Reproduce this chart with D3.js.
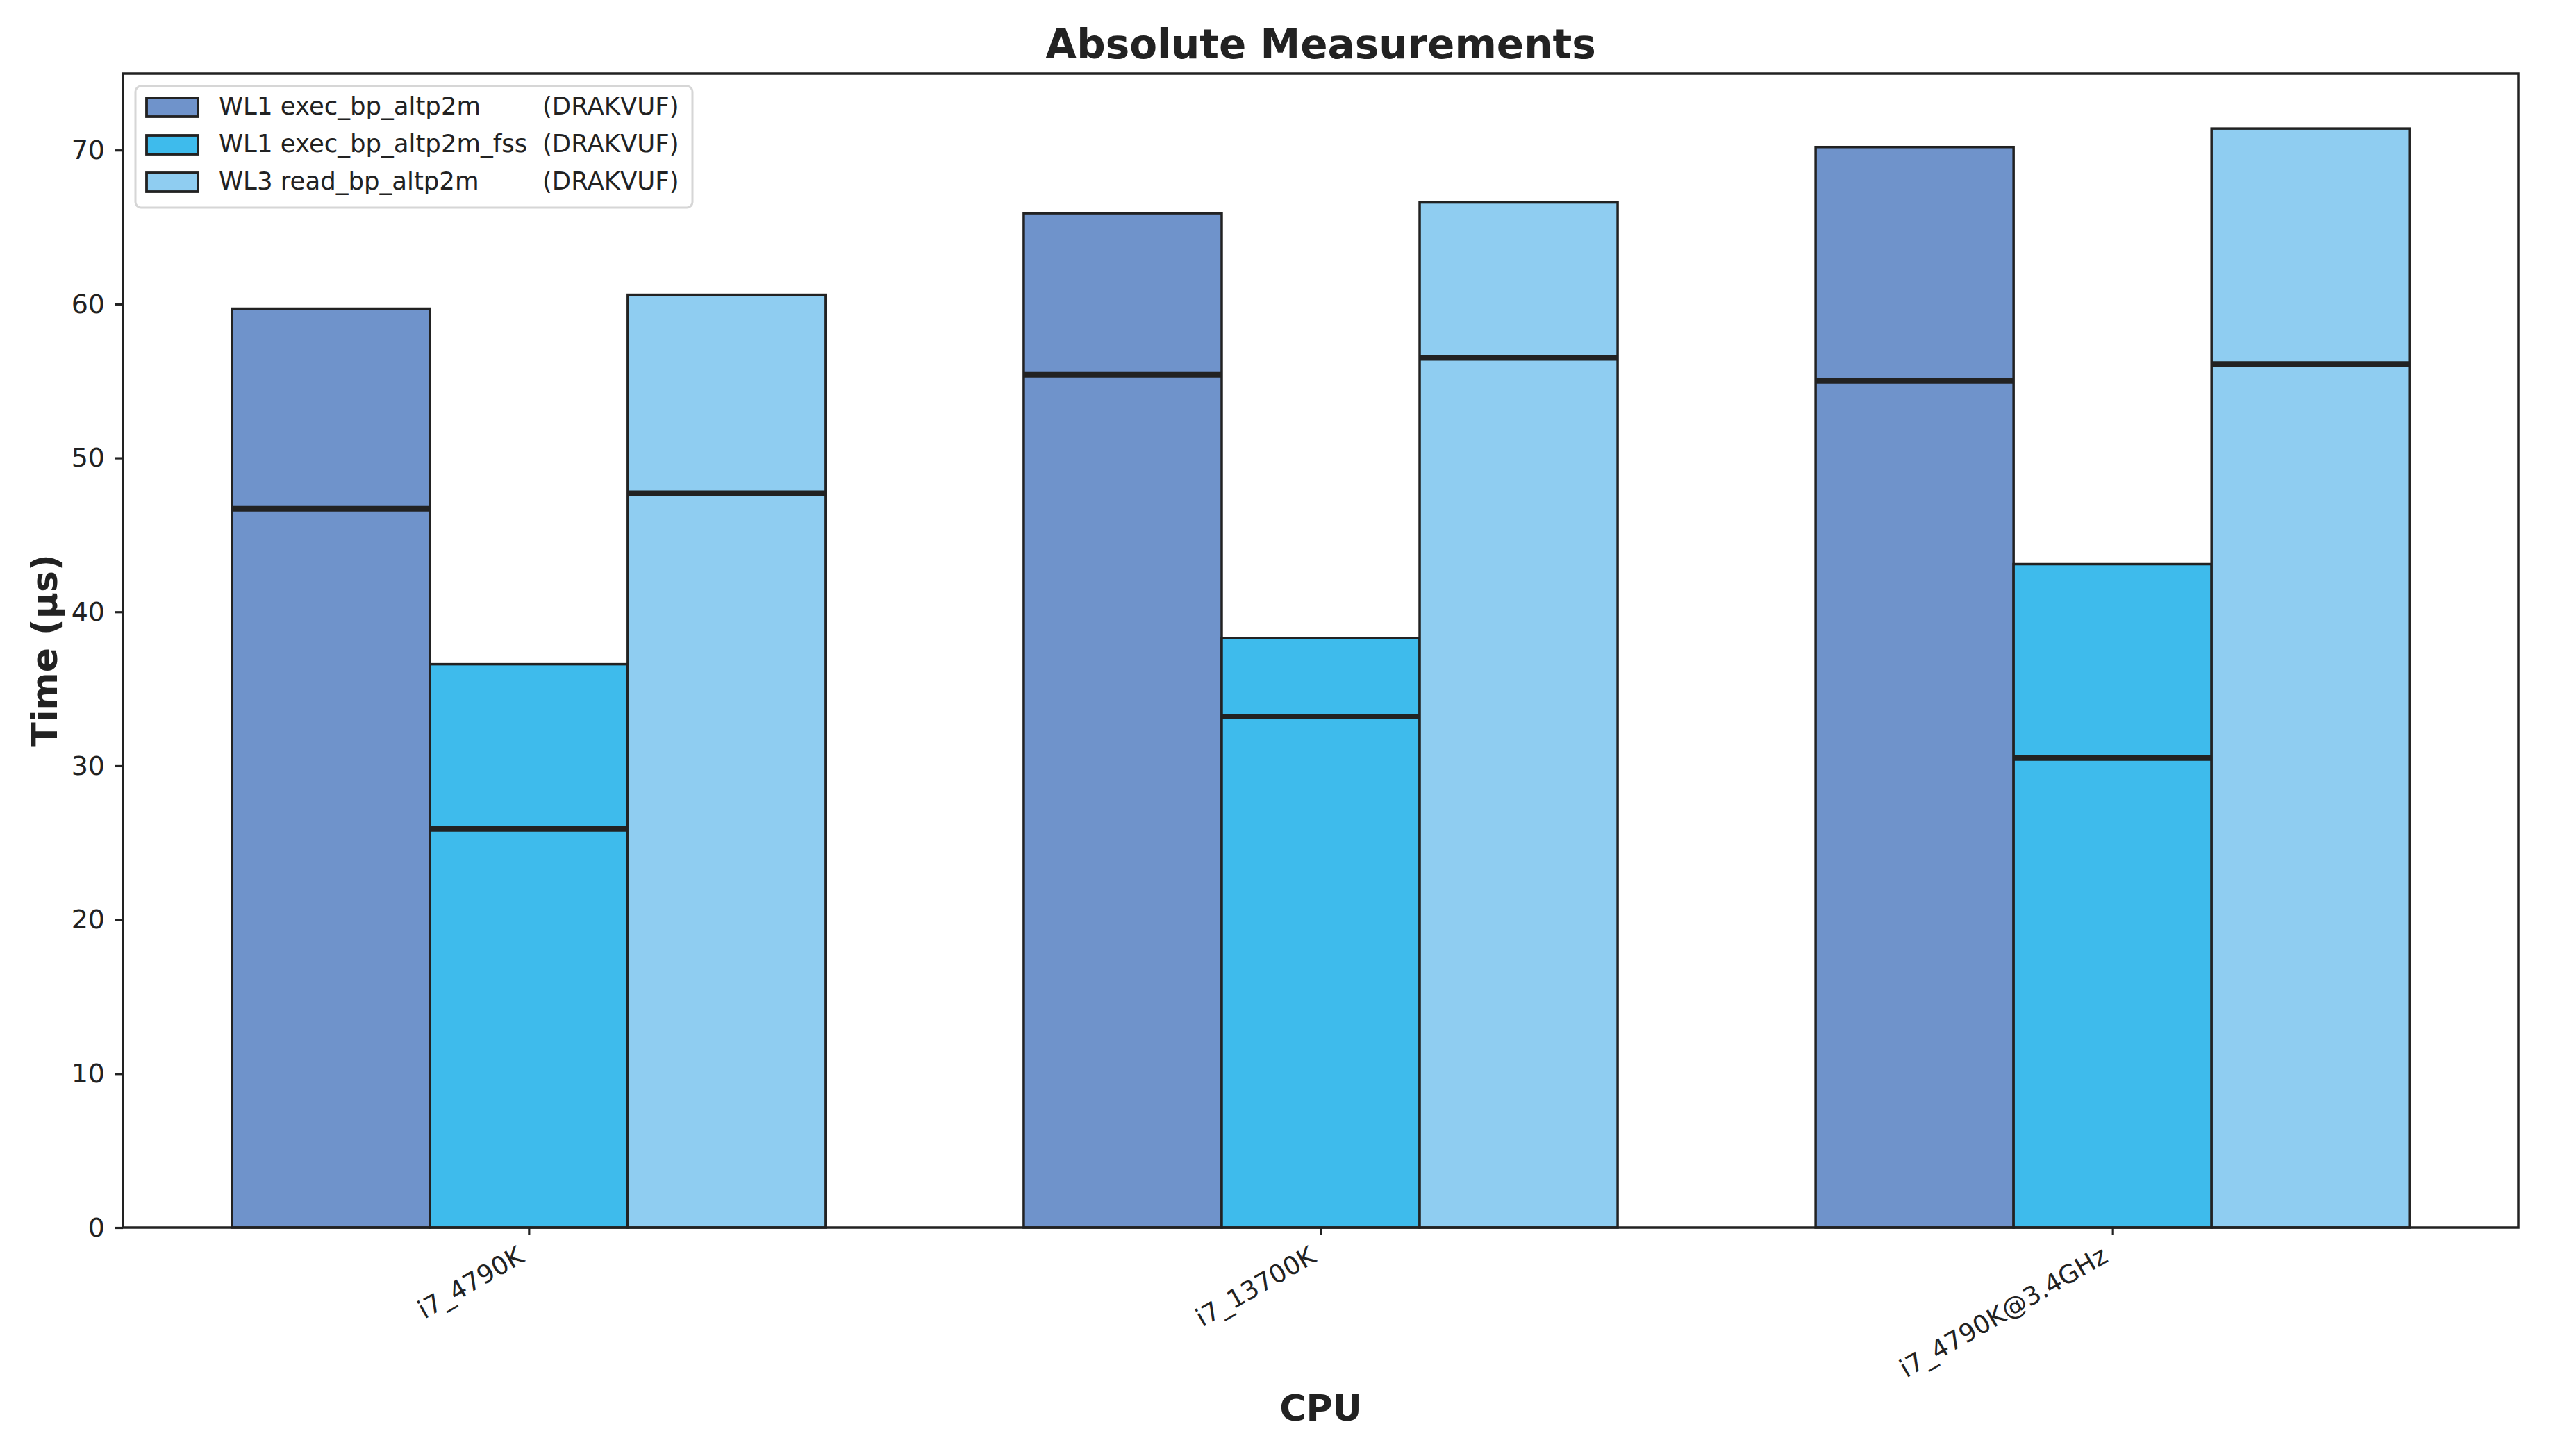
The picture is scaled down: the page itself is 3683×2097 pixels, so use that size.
<!DOCTYPE html>
<html>
<head>
<meta charset="utf-8">
<script src="https://cdn.jsdelivr.net/npm/d3@7"></script>
<style>
  html, body { margin: 0; padding: 0; background: #fff; }
  svg { display: block; }
  text { font-family: "DejaVu Sans", sans-serif; fill: #222; }
</style>
</head>
<body>
<svg id="chart" width="3683" height="2097"></svg>
<script>
// ---- data ----
const categories = ["i7_4790K", "i7_13700K", "i7_4790K@3.4GHz"];
const seriesNames = ["WL1 exec_bp_altp2m", "WL1 exec_bp_altp2m_fss", "WL3 read_bp_altp2m"];
const seriesTags = ["(DRAKVUF)", "(DRAKVUF)", "(DRAKVUF)"];
const seriesColors = ["#6f93cb", "#3ebbec", "#8fcdf1"];
// bar heights (mean) per series, per category
const meanWL1exec = [59.7, 65.9, 70.2];
const meanWL1fss  = [36.6, 38.3, 43.1];
const meanWL3read = [60.6, 66.6, 71.4];
// horizontal marker (median) per series, per category
const medWL1exec = [46.7, 55.4, 55.0];
const medWL1fss  = [25.9, 33.2, 30.5];
const medWL3read = [47.7, 56.5, 56.1];
const yTicks = [0, 10, 20, 30, 40, 50, 60, 70];

const means = [meanWL1exec, meanWL1fss, meanWL3read];
const medians = [medWL1exec, medWL1fss, medWL3read];

// ---- layout ----
const svg = d3.select("#chart");
const L = 177, R = 3626, T = 106, B = 1768;
const barW = 0.25;
const x = d3.scaleLinear().domain([-0.5125, 2.5125]).range([L, R]);
const y = d3.scaleLinear().domain([0, 74.97]).range([B, T]);

const rows = [];
means.forEach((arr, s) => arr.forEach((v, c) => rows.push({s, c, v, m: medians[s][c]})));

const g = svg.append("g");
// bars
g.selectAll("rect.bar").data(rows).enter().append("rect")
  .attr("class", "bar")
  .attr("x", d => x(d.c + (d.s - 1) * barW - barW / 2))
  .attr("width", d => x(barW) - x(0))
  .attr("y", d => y(d.v))
  .attr("height", d => y(0) - y(d.v))
  .attr("fill", d => seriesColors[d.s])
  .attr("stroke", "#222")
  .attr("stroke-width", 3.5);

// median markers
g.selectAll("line.med").data(rows).enter().append("line")
  .attr("x1", d => x(d.c + (d.s - 1) * barW - barW / 2))
  .attr("x2", d => x(d.c + (d.s - 1) * barW + barW / 2))
  .attr("y1", d => y(d.m)).attr("y2", d => y(d.m))
  .attr("stroke", "#222").attr("stroke-width", 8);

// axes
const yAxis = d3.axisLeft(y).tickValues(yTicks).tickSize(12).tickPadding(14).tickFormat(d3.format("d"));
const ya = svg.append("g").attr("transform", `translate(${L},0)`).call(yAxis);
ya.select(".domain").remove();
ya.selectAll(".tick line").attr("stroke", "#222").attr("stroke-width", 3.2);
ya.selectAll(".tick text").style("font-size", "38px").attr("fill", "#222").style("font-family", "DejaVu Sans");

const xAxis = d3.axisBottom(x).tickValues([0, 1, 2]).tickSize(11).tickFormat(i => categories[i]);
const xa = svg.append("g").attr("transform", `translate(0,${B})`).call(xAxis);
xa.select(".domain").remove();
xa.selectAll(".tick line").attr("stroke", "#222").attr("stroke-width", 3.2);
xa.selectAll(".tick text")
  .style("font-size", "36.5px").attr("fill", "#222").style("font-family", "DejaVu Sans")
  .attr("text-anchor", "end")
  .attr("dy", null).attr("y", 0)
  .attr("transform", "translate(-5,48) rotate(-30)");

// spines
svg.append("rect").attr("x", L).attr("y", T).attr("width", R - L).attr("height", B - T)
  .attr("fill", "none").attr("stroke", "#222").attr("stroke-width", 3.5);

// title & labels
svg.append("text").attr("x", (L + R) / 2).attr("y", 84).attr("text-anchor", "middle")
  .style("font-size", "58px").style("font-weight", "bold").text("Absolute Measurements");
svg.append("text").attr("x", (L + R) / 2).attr("y", 2046).attr("text-anchor", "middle")
  .style("font-size", "52px").style("font-weight", "bold").text("CPU");
svg.append("text").attr("transform", `translate(82,${(T + B) / 2}) rotate(-90)`).attr("text-anchor", "middle")
  .style("font-size", "52px").style("font-weight", "bold").text("Time (µs)");

// legend
const lg = svg.append("g");
lg.append("rect").attr("x", 195).attr("y", 124).attr("width", 802).attr("height", 175)
  .attr("rx", 8).attr("fill", "#fff").attr("fill-opacity", 0.8)
  .attr("stroke", "#d6d6d6").attr("stroke-width", 3);
const items = lg.selectAll("g.item").data(seriesNames).enter().append("g")
  .attr("transform", (d, i) => `translate(0,${i * 54})`);
items.append("rect").attr("x", 211).attr("y", 141).attr("width", 74).attr("height", 27)
  .attr("fill", (d, i) => seriesColors[i]).attr("stroke", "#222").attr("stroke-width", 3.8);
items.append("text").attr("x", 315).attr("y", 165).style("font-size", "35.5px").text(d => d);
items.append("text").attr("x", 781).attr("y", 165).style("font-size", "35.5px").text((d, i) => seriesTags[i]);
</script>
</body>
</html>
